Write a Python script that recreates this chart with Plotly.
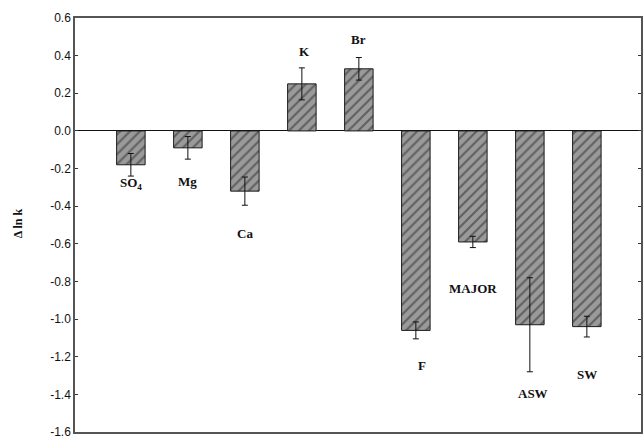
import plotly.graph_objects as go

# Change in ln k for each added solute / medium, with +/- uncertainty
labels = ["SO<sub>4</sub>", "Mg", "Ca", "K", "Br", "F", "MAJOR", "ASW", "SW"]
delta_lnk = [-0.18, -0.09, -0.32, 0.25, 0.33, -1.06, -0.59, -1.03, -1.04]
err = [0.06, 0.06, 0.075, 0.085, 0.06, 0.045, 0.03, 0.25, 0.055]

y_ticks = [0.6, 0.4, 0.2, 0.0, -0.2, -0.4, -0.6, -0.8, -1.0, -1.2, -1.4, -1.6]

# label anchor points (x shift in category units, y in data units)
label_dx = [0.0, 0.0, 0.0, 0.05, 0.0, 0.1, 0.0, 0.05, 0.0]
label_y = [-0.28, -0.27, -0.545, 0.42, 0.485, -1.245, -0.84, -1.395, -1.295]

xs = list(range(len(labels)))

fig = go.Figure()
fig.add_trace(go.Bar(
    x=xs,
    y=delta_lnk,
    width=0.5,
    marker=dict(
        color="#9a9a9a",
        line=dict(color="#1a1a1a", width=1),
        pattern=dict(shape="/", fgcolor="#262626", bgcolor="#9a9a9a",
                     size=7, solidity=0.3),
    ),
    error_y=dict(type="data", array=err, visible=True,
                 color="#111111", thickness=1, width=3),
    showlegend=False,
))

for i, lab in enumerate(labels):
    fig.add_annotation(
        x=xs[i] + label_dx[i], y=label_y[i], text="<b>%s</b>" % lab,
        showarrow=False, xanchor="center", yanchor="middle",
        font=dict(family="Liberation Serif", size=13, color="#111111"),
    )

fig.add_annotation(
    xref="paper", yref="paper", x=-0.1, y=0.505,
    text="<b>\u0394 ln k</b>", textangle=-90, showarrow=False,
    xanchor="center", yanchor="middle",
    font=dict(family="Liberation Serif", size=12, color="#111111"),
)

fig.update_layout(
    width=644, height=440,
    margin=dict(l=75, r=1, t=18, b=6),
    paper_bgcolor="white", plot_bgcolor="white",
    bargap=0.5,
)
fig.update_xaxes(
    range=[-0.98, 8.95], showgrid=False, zeroline=False,
    showticklabels=False, ticks="",
    showline=True, linecolor="#555555", linewidth=1.5, mirror=True,
)
fig.update_yaxes(
    range=[-1.6, 0.6], tickvals=y_ticks,
    ticktext=["%.1f" % v for v in y_ticks],
    showgrid=False, zeroline=True, zerolinecolor="#111111", zerolinewidth=1,
    ticks="inside", ticklen=3, tickcolor="#333333",
    showline=True, linecolor="#555555", linewidth=1.5, mirror="ticks",
    ticklabeloverflow="allow",
    tickfont=dict(family="Liberation Sans", size=12, color="#111111"),
)

fig.write_html("out.html")
